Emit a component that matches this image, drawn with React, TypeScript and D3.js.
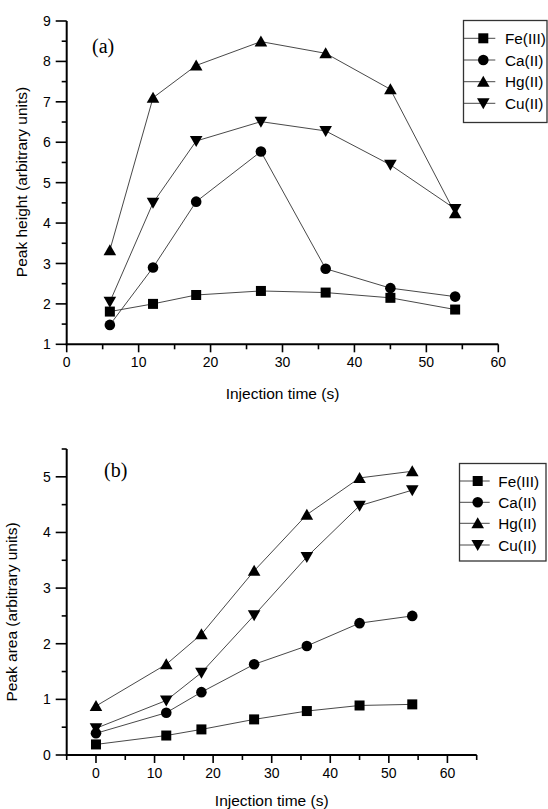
import React from "react";
import * as d3 from "d3";

const seriesNames = ["Fe(III)", "Ca(II)", "Hg(II)", "Cu(II)"];
const markerKinds = ["square", "circle", "triangleUp", "triangleDown"];

const timesA = [6, 12, 18, 27, 36, 45, 54];
const feA = [1.81, 2.0, 2.22, 2.32, 2.28, 2.15, 1.86];
const caA = [1.48, 2.9, 4.53, 5.77, 2.87, 2.39, 2.18];
const hgA = [3.33, 7.1, 7.9, 8.49, 8.2, 7.31, 4.24];
const cuA = [2.05, 4.5, 6.03, 6.51, 6.28, 5.44, 4.35];

const timesB = [0, 12, 18, 27, 36, 45, 54];
const feB = [0.19, 0.35, 0.46, 0.64, 0.79, 0.89, 0.91];
const caB = [0.39, 0.76, 1.13, 1.63, 1.96, 2.37, 2.5];
const hgB = [0.88, 1.63, 2.17, 3.31, 4.32, 4.98, 5.1];
const cuB = [0.48, 0.98, 1.48, 2.51, 3.56, 4.48, 4.76];

const xTicksA = [0, 10, 20, 30, 40, 50, 60];
const yTicksA = [1, 2, 3, 4, 5, 6, 7, 8, 9];
const xTicksB = [0, 10, 20, 30, 40, 50, 60];
const yTicksB = [0, 1, 2, 3, 4, 5];

const FONT = "'Liberation Sans', Arial, sans-serif";

function Marker({ kind, x, y }: { kind: string; x: number; y: number }) {
  if (kind === "square") return <rect x={x - 5} y={y - 5} width={10} height={10} fill="#000" />;
  if (kind === "circle") return <circle cx={x} cy={y} r={5.3} fill="#000" />;
  if (kind === "triangleUp")
    return <path d={`M${x},${y - 6} L${x + 6.3},${y + 5} L${x - 6.3},${y + 5} Z`} fill="#000" />;
  return <path d={`M${x},${y + 6} L${x + 6.3},${y - 5} L${x - 6.3},${y - 5} Z`} fill="#000" />;
}

type PanelProps = {
  times: number[];
  data: number[][];
  xDomain: [number, number];
  xRange: [number, number];
  yDomain: [number, number];
  yRange: [number, number];
  xTicks: number[];
  yTicks: number[];
  xMinor: number[];
  yMinor: number[];
  yLabel: string;
  yLabelX: number;
  yLabelY: number;
  xLabelY: number;
  tag: string;
  tagX: number;
  tagY: number;
  legend: { x: number; y: number; w: number; h: number; rows: number[]; mx: number; tx: number };
};

function Panel(p: PanelProps) {
  const x = d3.scaleLinear().domain(p.xDomain).range(p.xRange);
  const y = d3.scaleLinear().domain(p.yDomain).range(p.yRange);
  const line = d3
    .line<number>()
    .x((_, i) => x(p.times[i]))
    .y((d) => y(d));
  const x0 = p.xRange[0];
  const y0 = p.yRange[0];
  const midX = x((xTicksA[0] + xTicksA[xTicksA.length - 1]) / 2);
  return (
    <g>
      {/* axes */}
      <line x1={x0} x2={x0} y1={p.yRange[1]} y2={y0 + 1} stroke="#000" strokeWidth={2} />
      <line x1={x0 - 1} x2={p.xRange[1]} y1={y0} y2={y0} stroke="#000" strokeWidth={2} />
      {p.yTicks.map((t) => (
        <g key={"yt" + t}>
          <line x1={x0 - 11} x2={x0} y1={y(t)} y2={y(t)} stroke="#000" strokeWidth={1.6} />
          <text x={x0 - 16} y={y(t)} dy="0.36em" textAnchor="end" fontSize={14} fontFamily={FONT}>
            {t}
          </text>
        </g>
      ))}
      {p.yMinor.map((t) => (
        <line key={"ym" + t} x1={x0 - 5} x2={x0} y1={y(t)} y2={y(t)} stroke="#000" strokeWidth={1.6} />
      ))}
      {p.xTicks.map((t) => (
        <g key={"xt" + t}>
          <line x1={x(t)} x2={x(t)} y1={y0} y2={y0 + 8} stroke="#000" strokeWidth={1.6} />
          <text x={x(t)} y={y0 + 18} dy="0.36em" textAnchor="middle" fontSize={14} fontFamily={FONT}>
            {t}
          </text>
        </g>
      ))}
      {p.xMinor.map((t) => (
        <line key={"xm" + t} x1={x(t)} x2={x(t)} y1={y0} y2={y0 + 5} stroke="#000" strokeWidth={1.6} />
      ))}
      <text x={midX} y={p.xLabelY} dy="0.36em" textAnchor="middle" fontSize={15.5} fontFamily={FONT}>
        Injection time (s)
      </text>
      <text
        transform={`translate(${p.yLabelX},${p.yLabelY}) rotate(-90)`}
        dy="0.36em"
        textAnchor="middle"
        fontSize={15.5}
        fontFamily={FONT}
      >
        {p.yLabel}
      </text>
      <text x={p.tagX} y={p.tagY} dy="0.36em" fontSize={20} fontFamily="'Liberation Serif', 'Times New Roman', serif">
        {p.tag}
      </text>
      {/* series */}
      {p.data.map((s, si) => (
        <path key={"l" + si} d={line(s) || ""} fill="none" stroke="#333" strokeWidth={0.9} />
      ))}
      {p.data.map((s, si) =>
        s.map((v, i) => <Marker key={"m" + si + "-" + i} kind={markerKinds[si]} x={x(p.times[i])} y={y(v)} />)
      )}
      {/* legend */}
      <rect
        x={p.legend.x}
        y={p.legend.y}
        width={p.legend.w}
        height={p.legend.h}
        fill="#fff"
        stroke="#333"
        strokeWidth={1.3}
      />
      {seriesNames.map((n, i) => (
        <g key={"lg" + i}>
          <line
            x1={p.legend.x}
            x2={p.legend.mx + 12}
            y1={p.legend.rows[i]}
            y2={p.legend.rows[i]}
            stroke="#333"
            strokeWidth={0.9}
          />
          <Marker kind={markerKinds[i]} x={p.legend.mx} y={p.legend.rows[i]} />
          <text x={p.legend.tx} y={p.legend.rows[i]} dy="0.36em" fontSize={15.3} fontFamily={FONT}>
            {n}
          </text>
        </g>
      ))}
    </g>
  );
}

export default function App() {
  const minorA = [5, 15, 25, 35, 45, 55];
  const minorYA = [1.5, 2.5, 3.5, 4.5, 5.5, 6.5, 7.5, 8.5];
  const minorB = [-5, 5, 15, 25, 35, 45, 55, 65];
  const minorYB = [0.5, 1.5, 2.5, 3.5, 4.5, 5.5];
  return (
    <svg
      width={548}
      height={809}
      style={{ position: "absolute", left: 0, top: 0, background: "#fff" }}
    >
      <rect width={548} height={809} fill="#fff" />
      <Panel
        times={timesA}
        data={[feA, caA, hgA, cuA]}
        xDomain={[0, 60]}
        xRange={[66.7, 498.3]}
        yDomain={[1, 9]}
        yRange={[344.3, 21]}
        xTicks={xTicksA}
        yTicks={yTicksA}
        xMinor={minorA}
        yMinor={minorYA}
        yLabel="Peak height (arbitrary units)"
        yLabelX={21.5}
        yLabelY={182}
        xLabelY={393}
        tag="(a)"
        tagX={92}
        tagY={46}
        legend={{ x: 463.5, y: 20.5, w: 83.5, h: 102, rows: [38.3, 60, 81.7, 103.3], mx: 483.3, tx: 505 }}
      />
      <Panel
        times={timesB}
        data={[feB, caB, hgB, cuB]}
        xDomain={[-5, 65]}
        xRange={[66.7, 476.7]}
        yDomain={[0, 5.5]}
        yRange={[755, 449]}
        xTicks={xTicksB}
        yTicks={yTicksB}
        xMinor={minorB}
        yMinor={minorYB}
        yLabel="Peak area (arbitrary units)"
        yLabelX={11.5}
        yLabelY={612}
        xLabelY={800.5}
        tag="(b)"
        tagX={104}
        tagY={470}
        legend={{ x: 459.5, y: 463.5, w: 86.5, h: 97.5, rows: [481, 502.3, 523.3, 545], mx: 477.7, tx: 498.3 }}
      />
    </svg>
  );
}
